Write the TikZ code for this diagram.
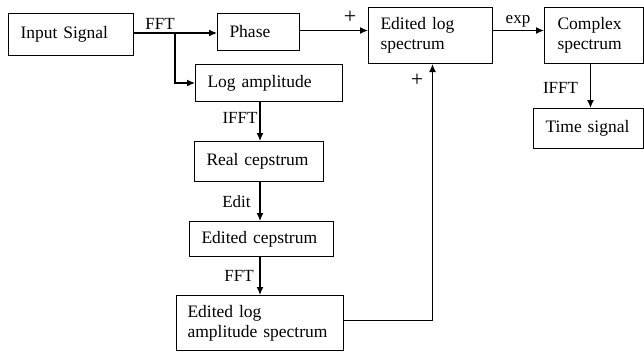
\documentclass[tikz,border=0pt]{standalone}
\usepackage{fontspec}
\setmainfont{Liberation Serif}
\usetikzlibrary{arrows.meta}
\begin{document}
\begin{tikzpicture}[x=1pt,y=-1pt,
  box/.style={draw, line width=1pt, rectangle, anchor=north west, inner xsep=12pt, inner ysep=0pt, align=left, font=\fontsize{17.5}{20}\selectfont},
  lbl/.style={anchor=base, inner sep=0pt, font=\fontsize{17}{19}\selectfont},
  pls/.style={anchor=center, inner sep=0pt, font=\fontsize{22}{22}\selectfont},
  conn/.style={line width=1.3pt, -{Latex[length=8pt,width=7pt]}}]
\useasboundingbox (0,0) rectangle (644,353);
\node[box, minimum width=125pt, minimum height=42pt, text width=101pt] (in) at (8,13) {Input~Signal};
\node[box, minimum width=82pt, minimum height=37pt, text width=58pt] (phase) at (217,13) {Phase};
\node[box, minimum width=147pt, minimum height=37pt, text width=123pt] (logamp) at (195,64) {Log~amplitude};
\node[box, minimum width=129pt, minimum height=40pt, text width=105pt] (real) at (194,141) {Real~cepstrum};
\node[box, minimum width=144pt, minimum height=35pt, text width=120pt] (edcep) at (189,221) {Edited~cepstrum};
\node[box, minimum width=167pt, minimum height=55pt, inner xsep=11pt, text width=145pt] (edlas) at (176,295) {Edited~log\\amplitude~spectrum};
\node[box, minimum width=124pt, minimum height=56pt, text width=100pt] (els) at (368,7) {Edited~log\\spectrum};
\node[box, minimum width=99pt, minimum height=56pt, text width=73pt, inner xsep=13pt] (cs) at (544,7) {Complex\\spectrum};
\node[box, minimum width=110pt, minimum height=40pt, text width=86pt] (ts) at (533,108) {Time~signal};

\coordinate (br) at (175,33);
\draw[conn] (in.east |- br) -- (phase.west |- br);
\draw[conn] (br) |- (logamp.west);
\draw[conn] ([yshift=1.5pt]phase.east) -- ([yshift=1.5pt]phase.east -| els.west);
\draw[conn] ([yshift=5pt]els.east) -- ([yshift=5pt]cs.west);
\draw[conn] ([xshift=-3.5pt]cs.south) -- ([xshift=-3.5pt]cs.south |- ts.north);
\draw[conn] (logamp.south -| 260,0) -- (real.north -| 260,0);
\draw[conn] (real.south -| 260,0) -- (edcep.north -| 260,0);
\draw[conn] (edcep.south -| 260,0) -- (edlas.north -| 260,0);
\draw[conn] ([yshift=2.5pt]edlas.east) -| ([xshift=2pt]els.south);

\node[lbl] (l1) at (160,30) {FFT};
\node[lbl] (l2) at (518,24) {exp};
\node[lbl] (l3) at (560.5,93) {IFFT};
\node[lbl] (l4) at (240,123) {IFFT};
\node[lbl] (l5) at (236.5,207) {Edit};
\node[lbl] (l6) at (239,281) {FFT};
\node[pls] (p1) at (350,17) {+};
\node[pls] (p2) at (417,80) {+};
\end{tikzpicture}
\end{document}
